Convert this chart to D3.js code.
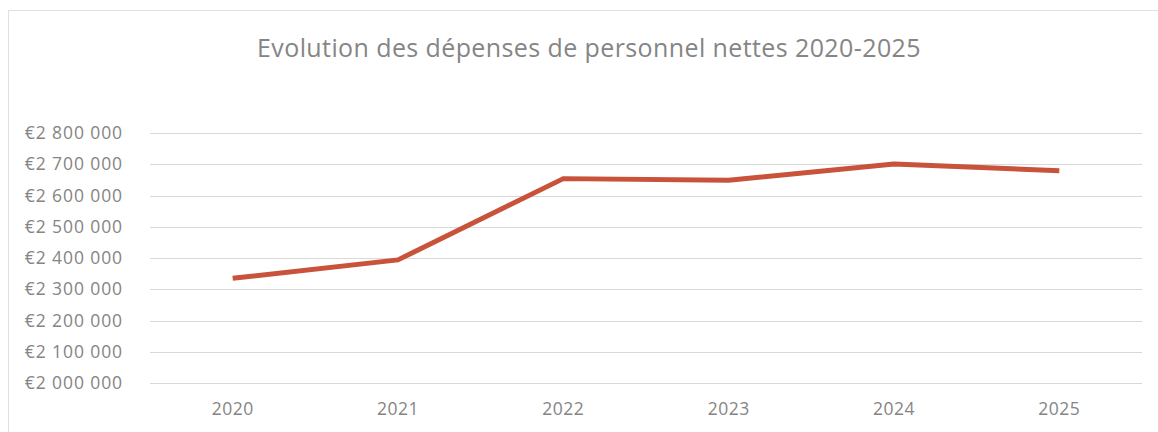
<!DOCTYPE html>
<html>
<head>
<meta charset="utf-8">
<script src="https://cdn.jsdelivr.net/npm/d3@7"></script>
<style>
  body { margin: 0; background: #fff; }
  text { font-family: "Open Sans", "Liberation Sans", sans-serif; fill: #858585; }
</style>
</head>
<body>
<div id="chart"></div>
<script>
var years = ["2020", "2021", "2022", "2023", "2024", "2025"];
var depenses = [2335000, 2394000, 2654000, 2649000, 2701000, 2679000];
var yTicks = [2000000, 2100000, 2200000, 2300000, 2400000, 2500000, 2600000, 2700000, 2800000];

var W = 1158, H = 432;
var margin = { top: 133, right: 16, bottom: 49, left: 150 },
    width = W - margin.left - margin.right,
    height = H - margin.top - margin.bottom;

var svg = d3.select("#chart")
    .append("svg")
    .attr("width", W)
    .attr("height", H);

// chart frame
svg.append("rect")
    .attr("x", 8.5).attr("y", 10.5)
    .attr("width", W).attr("height", H)
    .attr("fill", "none")
    .attr("stroke", "#e0e0e0");

svg.append("text")
    .attr("x", 589).attr("y", 57)
    .attr("text-anchor", "middle")
    .style("font-size", "25px")
    .style("letter-spacing", "0.4px")
    .text("Evolution des dépenses de personnel nettes 2020-2025");

var g = svg.append("g")
    .attr("transform", "translate(" + margin.left + "," + margin.top + ")");

var x = d3.scaleBand().domain(years).range([0, width]);
var y = d3.scaleLinear().domain([2000000, 2800000]).range([height, 0]);

var fmt = function(d) { return "€" + d3.format(",")(d).replace(/,/g, " "); };

// gridlines
g.append("g")
    .selectAll("line")
    .data(yTicks)
    .enter()
    .append("line")
    .attr("x1", 0).attr("x2", width)
    .attr("y1", function(d) { return Math.round(y(d)) + 0.5; })
    .attr("y2", function(d) { return Math.round(y(d)) + 0.5; })
    .attr("stroke", "#d9d9d9");

var yAxis = g.append("g")
    .call(d3.axisLeft(y).tickValues(yTicks).tickFormat(fmt).tickSize(0).tickPadding(27));
yAxis.select(".domain").remove();
yAxis.selectAll("text").style("font-size", "17.5px").style("letter-spacing", "0.9px").attr("fill", "#858585");

var xAxis = g.append("g")
    .attr("transform", "translate(0," + height + ")")
    .call(d3.axisBottom(x).tickSize(0).tickPadding(20));
xAxis.select(".domain").remove();
xAxis.selectAll("text").style("font-size", "17.5px").style("letter-spacing", "0.5px").attr("fill", "#858585");

var line = d3.line()
    .x(function(d, i) { return x(years[i]) + x.bandwidth() / 2; })
    .y(function(d) { return y(d); });

g.append("path")
    .datum(depenses)
    .attr("d", line)
    .attr("fill", "none")
    .attr("stroke", "#c8523a")
    .attr("stroke-width", 5)
    .attr("stroke-linejoin", "round");
</script>
</body>
</html>
